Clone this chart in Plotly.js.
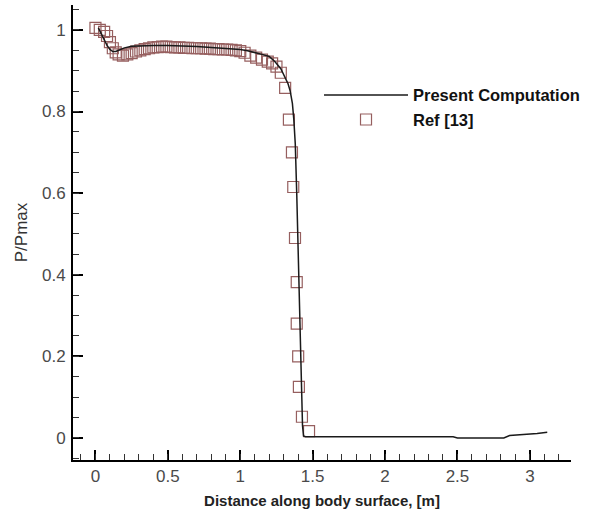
<!DOCTYPE html>
<html>
<head>
<meta charset="utf-8">
<script src="https://cdn.plot.ly/plotly-3.0.1.min.js"></script>
<style>html,body{margin:0;padding:0;background:#fff;}#chart{width:590px;height:516px;}</style>
</head>
<body>
<div id="chart"></div>
<script>
// Present Computation (solid line)
var compX = [0.02,0.04,0.06,0.08,0.10,0.12,0.14,0.17,0.20,0.25,0.30,0.40,0.50,0.60,0.70,0.80,0.90,1.00,1.05,1.10,1.15,1.20,1.24,1.28,1.31,1.33,1.345,1.36,1.37,1.38,1.39,1.40,1.41,1.418,1.425,1.43,1.437,1.45,1.50,1.70,2.00,2.30,2.47,2.50,2.70,2.82,2.86,2.95,3.05,3.12];
var compY = [1.005,0.99,0.975,0.962,0.952,0.947,0.947,0.952,0.956,0.960,0.961,0.962,0.962,0.961,0.959,0.957,0.955,0.952,0.949,0.945,0.940,0.935,0.922,0.905,0.885,0.868,0.850,0.820,0.780,0.720,0.600,0.470,0.330,0.200,0.080,0.030,0.005,0.003,0.003,0.003,0.003,0.003,0.003,0.000,0.000,0.000,0.006,0.008,0.011,0.014];

// Ref [13] (open squares)
var refX = [0.00,0.03,0.06,0.08,0.10,0.12,0.14,0.16,0.19,0.22,0.25,0.28,0.31,0.34,0.37,0.40,0.43,0.46,0.49,0.52,0.55,0.58,0.61,0.64,0.67,0.70,0.73,0.76,0.79,0.82,0.85,0.88,0.91,0.94,0.97,1.00,1.03,1.07,1.11,1.15,1.19,1.22,1.25,1.28,1.31,1.336,1.357,1.366,1.378,1.39,1.39,1.40,1.405,1.426,1.475];
var refY = [1.005,1.000,0.995,0.985,0.970,0.955,0.945,0.940,0.937,0.940,0.943,0.947,0.950,0.953,0.955,0.957,0.958,0.959,0.959,0.958,0.957,0.957,0.956,0.956,0.955,0.955,0.955,0.954,0.954,0.953,0.953,0.952,0.952,0.951,0.950,0.948,0.944,0.937,0.932,0.927,0.922,0.918,0.910,0.895,0.858,0.780,0.700,0.615,0.490,0.382,0.280,0.200,0.125,0.052,0.017];

var xTicks = [0,0.5,1,1.5,2,2.5,3];
var xTickText = ['0','0.5','1','1.5','2','2.5','3'];
var yTicks = [0,0.2,0.4,0.6,0.8,1];
var yTickText = ['0','0.2','0.4','0.6','0.8','1'];

var xRange = [-0.155, 3.284];
var yRange = [-0.054, 1.061];
var fam = 'Liberation Sans, Arial, sans-serif';

var traces = [
  {x: refX, y: refY, mode: 'markers', name: 'Ref [13]', legendrank: 2,
   marker: {symbol: 'square-open', size: 11, color: 'rgb(150,95,95)', line: {width: 1.2}}},
  {x: compX, y: compY, mode: 'lines', name: 'Present Computation', legendrank: 1,
   line: {color: '#1a1a1a', width: 1.5}},
  // invisible helper so the minor-tick axes exist
  {x: [xRange[0]], y: [yRange[0]], xaxis: 'x2', yaxis: 'y2', mode: 'markers',
   marker: {opacity: 0}, showlegend: false, hoverinfo: 'skip'}
];

var tickFont = {family: fam, size: 17, color: '#4a4a4a'};

var layout = {
  width: 590, height: 516,
  margin: {l: 73, r: 19, t: 5, b: 56},
  paper_bgcolor: '#fff', plot_bgcolor: 'rgba(0,0,0,0)',
  showlegend: true,
  legend: {x: 0.494, y: 0.84, xanchor: 'left', yanchor: 'top',
           itemwidth: 84, bgcolor: 'rgba(0,0,0,0)',
           font: {family: fam, size: 16.5, color: '#111', weight: 'bold'}},
  xaxis: {
    range: xRange, showgrid: false, zeroline: false,
    showline: true, linecolor: '#000', linewidth: 2, mirror: false,
    tickmode: 'array', tickvals: xTicks, ticktext: xTickText,
    ticks: 'inside', ticklen: 10, tickwidth: 2, tickcolor: '#000',
    tickfont: tickFont, ticklabelstandoff: 0,
    title: {text: 'Distance along body surface, [m]', standoff: 10,
            font: {family: fam, size: 15, color: '#222', weight: 'bold'}}
  },
  yaxis: {
    range: yRange, showgrid: false, zeroline: false,
    showline: true, linecolor: '#000', linewidth: 2, mirror: false,
    tickmode: 'array', tickvals: yTicks, ticktext: yTickText,
    ticks: 'inside', ticklen: 10, tickwidth: 2, tickcolor: '#000',
    tickfont: tickFont, ticklabelstandoff: 2,
    title: {text: 'P/Pmax', standoff: 10,
            font: {family: fam, size: 17, color: '#333'}}
  },
  xaxis2: {
    overlaying: 'x', anchor: 'y2', range: xRange, side: 'bottom',
    showgrid: false, zeroline: false, showline: false, showticklabels: false,
    tickmode: 'linear', tick0: 0, dtick: 0.1,
    ticks: 'inside', ticklen: 6, tickwidth: 1, tickcolor: '#333'
  },
  yaxis2: {
    overlaying: 'y', anchor: 'x2', range: yRange, side: 'left',
    showgrid: false, zeroline: false, showline: false, showticklabels: false,
    tickmode: 'linear', tick0: 0, dtick: 0.05,
    ticks: 'inside', ticklen: 6, tickwidth: 1, tickcolor: '#333'
  }
};

Plotly.newPlot('chart', traces, layout, {displayModeBar: false, staticPlot: true});
</script>
</body>
</html>
